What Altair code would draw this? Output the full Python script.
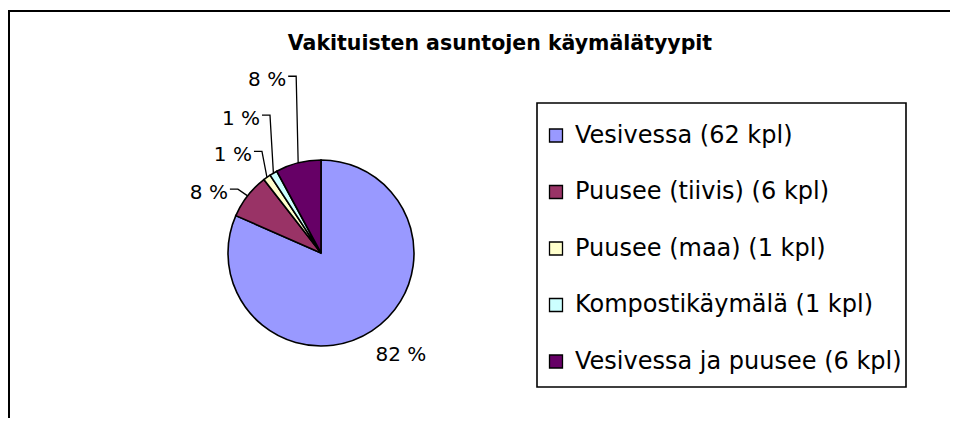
import math
import pandas as pd
import altair as alt

# ---------------- data ----------------
categories = ["Vesivessa", "Puusee (tiivis)", "Puusee (maa)", "Kompostikäymälä", "Vesivessa ja puusee"]
counts = [62, 6, 1, 1, 6]
colors = ["#9999FF", "#993366", "#FFFFCC", "#CCFFFF", "#660066"]
title_text = "Vakituisten asuntojen käymälätyypit"

# ---------------- layout (pixels, chart coordinates) ----------------
W, H = 942, 410
CX, CY, R = 313, 245, 93
FONT = "DejaVu Sans"
# elbow of the leader line relative to the slice's outer-edge point (None = free label)
label_elbow = [None, (-9.7, -6.7), (-5.0, -26.0), (-3.4, -58.0), (-2.0, -86.6)]
free_label_offset = (29, 23.7)
LEGEND_BOX = (529, 95, 898, 379)  # x, y, x2, y2

total = sum(counts)
names = [f"{c} ({n} kpl)" for c, n in zip(categories, counts)]
pie_df = pd.DataFrame({"name": names, "count": counts, "order": list(range(len(counts)))})

# label and leader-line geometry derived from the values
text_rows, line_rows = [], []
cum = 0
for i, n in enumerate(counts):
    mid = (cum + n / 2) / total * 2 * math.pi
    cum += n
    ex = CX + R * math.sin(mid)
    ey = CY - R * math.cos(mid)
    pct = f"{round(n / total * 100)} %"
    if label_elbow[i] is None:
        text_rows.append({"x": ex + free_label_offset[0], "y": ey + free_label_offset[1],
                          "t": pct, "al": "center"})
    else:
        bx = ex + label_elbow[i][0]
        by = ey + label_elbow[i][1]
        text_rows.append({"x": bx - 10, "y": by + 3.5, "t": pct, "al": "right"})
        for k, (px, py) in enumerate([(bx - 8, by), (bx, by), (ex, ey)]):
            line_rows.append({"x": px, "y": py, "id": i, "k": k})

text_df = pd.DataFrame(text_rows)
line_df = pd.DataFrame(line_rows)

xs = alt.Scale(domain=[0, W], nice=False, zero=False)
ys = alt.Scale(domain=[0, H], nice=False, zero=False, reverse=True)

pie = alt.Chart(pie_df).mark_arc(outerRadius=R, stroke="black", strokeWidth=1.6).encode(
    theta=alt.Theta("count:Q", stack=True),
    order=alt.Order("order:Q"),
    color=alt.Color(
        "name:N",
        scale=alt.Scale(domain=names, range=colors),
        sort=names,
        legend=alt.Legend(
            title=None,
            orient="none",
            legendX=536,
            legendY=115.5,
            padding=0,
            symbolType="square",
            symbolSize=169,
            symbolStrokeColor="black",
            symbolStrokeWidth=1.3,
            symbolOpacity=1,
            labelFont=FONT,
            labelFontSize=24,
            labelColor="black",
            labelLimit=600,
            labelOffset=7,
            rowPadding=32.5,
        ),
    ),
    x=alt.value(CX),
    y=alt.value(CY),
)

leaders = alt.Chart(line_df).mark_line(color="black", strokeWidth=1.3).encode(
    x=alt.X("x:Q", scale=xs, axis=None),
    y=alt.Y("y:Q", scale=ys, axis=None),
    detail="id:N",
    order="k:Q",
)

labels_right = alt.Chart(text_df[text_df["al"] == "right"]).mark_text(
    font=FONT, fontSize=20, align="right", baseline="middle", color="black"
).encode(x=alt.X("x:Q", scale=xs, axis=None), y=alt.Y("y:Q", scale=ys, axis=None), text="t:N")

labels_center = alt.Chart(text_df[text_df["al"] == "center"]).mark_text(
    font=FONT, fontSize=20, align="center", baseline="middle", color="black"
).encode(x=alt.X("x:Q", scale=xs, axis=None), y=alt.Y("y:Q", scale=ys, axis=None), text="t:N")

one = alt.Data(values=[{"a": 1}])
title = alt.Chart(one).mark_text(
    text=title_text, font=FONT, fontSize=20.5, fontWeight="bold", align="center",
    baseline="alphabetic", color="black"
).encode(x=alt.value(492), y=alt.value(42))

legend_box = alt.Chart(one).mark_rect(fill="white", stroke="black", strokeWidth=1.6).encode(
    x=alt.value(LEGEND_BOX[0]), y=alt.value(LEGEND_BOX[1]),
    x2=alt.value(LEGEND_BOX[2]), y2=alt.value(LEGEND_BOX[3]),
)

frame_top = alt.Chart(one).mark_rule(color="black", strokeWidth=2).encode(
    x=alt.value(0), x2=alt.value(W), y=alt.value(3)
)
frame_left = alt.Chart(one).mark_rule(color="black", strokeWidth=2).encode(
    x=alt.value(1), y=alt.value(2), y2=alt.value(H)
)

chart = alt.layer(frame_top, frame_left, legend_box, pie, leaders, labels_right, labels_center, title).properties(
    width=W, height=H, padding=0, autosize=alt.AutoSizeParams(type="none"), background="white"
).configure_view(stroke=None)

chart.save("out.html", embed_options={"renderer": "svg", "actions": False})
